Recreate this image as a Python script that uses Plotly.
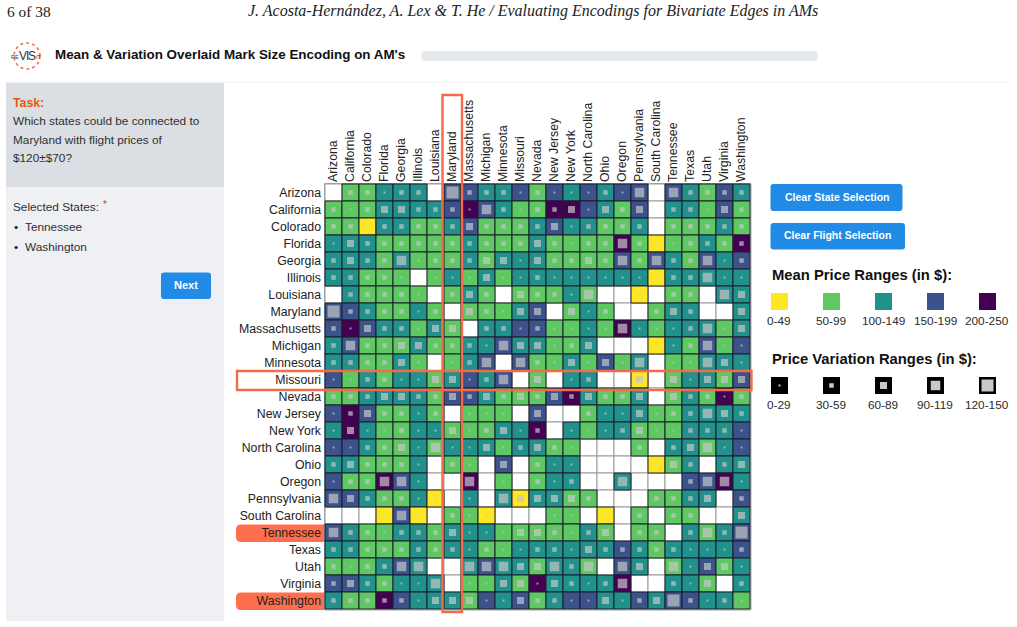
import plotly.graph_objects as go

W, H = 1017, 627

states = ["Arizona", "California", "Colorado", "Florida", "Georgia", "Illinois", "Louisiana",
          "Maryland", "Massachusetts", "Michigan", "Minnesota", "Missouri", "Nevada",
          "New Jersey", "New York", "North Carolina", "Ohio", "Oregon", "Pennsylvania",
          "South Carolina", "Tennessee", "Texas", "Utah", "Virginia", "Washington"]

# Mean price bin per route: Y 0-49, G 50-99, T 100-149, B 150-199, P 200-250, "." no flight
mean_bins = [
    ".GGTTT.BBTTBGBTBTBB.BTGBT",
    "GGGTTTTBPBTGGPPBTGB.TTGBG",
    "GGYTTGGTBGGGTBTTGGT.GGGTG",
    "TTTGGGGGTGGGTGGGGPGYGGTGP",
    "TTTGTGGGTGTTTGGGGBGBTGBTB",
    "TTGGG.GTGTGTTTTTTTTYTTTTT",
    ".TGGGG.GTG.GGGTG..Y.GG.TT",
    "BBTGGTG.GGGTB.GTG..GTT..T",
    "BPBTTGTG.TTBBGGTGPTGTTTGT",
    "TBGGGTGGTTBTTGGT...YTGBGB",
    "TTGGTG.GTB.BGGTGBGT.GGTTT",
    "BGTGTTGTBTB.G.TT..Y.GTTGB",
    "GGTTTTGBBTGGGBPTGGT.GTGPG",
    "BPBGGTG.GGG.B..GTTTGGTTTT",
    "TPTGGTTGGGTTP.TGTTGGGTTTB",
    "BBTGGTGTTTGTTGG...G.TTGTB",
    "TTGGGT.GG.B.GTT....YGT.TT",
    "BGGPBT..P.G.GTT..T...BBPT",
    "BBTGGTY.T.TYTTGG...GGTT.B",
    "...YBY.GGY...GG.Y.G.GG..T",
    "BTGGTTGTTTGGGGGTG.GG.TGTB",
    "TTGGGTGTTGGTTTTTTBTGTTTTB",
    "GGGTBT..TBTTGTTG.BT.GTBGT",
    "BBTGTTT.GGTGPTTTTP..TTG.T",
    "TGGPBTTTGBTBGTBBTTBTBBTTG",
]

# Price variation bin per route: 0 0-29, 1 30-59, 2 60-89, 3 90-119, 4 120-150
spread_bins = [
    ".11011.411101000103.31111",
    "1012211103101120212.11021",
    "1101111121111201111.11111",
    "0211111111112101131001111",
    "1211301112202112131311301",
    "11110.0002001000000011300",
    ".11110.121.21103..0.11.32",
    "4111101.21022.201..121..2",
    "10211022.1101000030001302",
    "1311221110322012...001300",
    "111120.013.31020203.00320",
    "00110022013.2.01..2.20222",
    "1112211212121212112.21101",
    "0121101.000.2..1002011321",
    "0200100201201.00012001110",
    "001120300201210...1.12300",
    "121110.10.2.100....021.12",
    "011330..3.0.101..3...1330",
    "3211100.0.322221...1112.1",
    "...030.100...00.0.1.11..2",
    "31101112000221012.11.1314",
    "1111111101001102111110001",
    "101133..33322313.32.30220",
    "1211003.0022021013..102.1",
    "1111102220021100201241010",
]

mean_colors = {"Y": "#fde725", "G": "#5ec962", "T": "#21918c", "B": "#3b528b", "P": "#440154"}
mean_labels = ["0-49", "50-99", "100-149", "150-199", "200-250"]
spread_labels = ["0-29", "30-59", "60-89", "90-119", "120-150"]
spread_sizes = [2, 4.5, 7, 9.5, 12]
selected_states = ["Tennessee", "Washington"]
focus_state = "Maryland"
focus_row = "Missouri"

ORANGE = "#f56b4a"
BLUE = "#228be6"
SANS = "Liberation Sans"
SERIF = "Liberation Serif"
INK = "#222222"


def px(x):
    return x / W


def py(y):
    return 1 - y / H


def rect(x0, y0, x1, y1, fill=None, line=None, width=0, layer="below"):
    return dict(type="rect", xref="paper", yref="paper", x0=px(x0), x1=px(x1), y0=py(y0), y1=py(y1),
                fillcolor=fill or "rgba(0,0,0,0)", line=dict(color=line or "rgba(0,0,0,0)", width=width),
                layer=layer)


def rounded(x0, y0, x1, y1, r, fill, layer="below", corners="tl tr br bl"):
    # Rounded rectangle as a path in paper coordinates
    def p(x, y):
        return f"{px(x):.5f},{py(y):.5f}"
    tl = r if "tl" in corners else 0
    tr = r if "tr" in corners else 0
    br = r if "br" in corners else 0
    bl = r if "bl" in corners else 0
    d = (f"M{p(x0 + tl, y0)} L{p(x1 - tr, y0)} Q{p(x1, y0)} {p(x1, y0 + tr)} "
         f"L{p(x1, y1 - br)} Q{p(x1, y1)} {p(x1 - br, y1)} "
         f"L{p(x0 + bl, y1)} Q{p(x0, y1)} {p(x0, y1 - bl)} "
         f"L{p(x0, y0 + tl)} Q{p(x0, y0)} {p(x0 + tl, y0)} Z")
    return dict(type="path", xref="paper", yref="paper", path=d, fillcolor=fill,
                line=dict(width=0), layer=layer)


def text(x, y, s, size=12, color=INK, anchor="left", family=SANS):
    return dict(xref="paper", yref="paper", x=px(x), y=py(y), text=s, showarrow=False,
                xanchor=anchor, yanchor="middle", borderpad=0,
                font=dict(size=size, color=color, family=family))


# Matrix cells split into empty routes and routes with flights
ex, ey, cx, cy, cc, ss = [], [], [], [], [], []
for r, (mrow, srow) in enumerate(zip(mean_bins, spread_bins)):
    for c, (m, s) in enumerate(zip(mrow, srow)):
        if m == ".":
            ex.append(states[c])
            ey.append(states[r])
        else:
            cx.append(states[c])
            cy.append(states[r])
            cc.append(mean_colors[m])
            ss.append(spread_sizes[int(s)])

fig = go.Figure()
fig.add_trace(go.Scatter(x=ex, y=ey, mode="markers", hoverinfo="skip", cliponaxis=False,
                         marker=dict(symbol="square", size=17, color="white",
                                     line=dict(color="#9a9a9a", width=1))))
fig.add_trace(go.Scatter(x=cx, y=cy, mode="markers", hoverinfo="skip", cliponaxis=False,
                         marker=dict(symbol="square", size=17, color=cc,
                                     line=dict(color="#1c1c2a", width=1))))
fig.add_trace(go.Scatter(x=cx, y=cy, mode="markers", hoverinfo="skip", cliponaxis=False,
                         marker=dict(symbol="square", size=ss, color="#c6c6c6", line=dict(width=0))))

shapes = []
annotations = []

# Page header
annotations.append(text(5.5, 11, "6 of 38", 15.4, "#222222", family=SERIF))
annotations.append(text(532.5, 11, "<i>J. Acosta-Hernández, A. Lex &amp; T. He / Evaluating Encodings for Bivariate Edges in AMs</i>",
                        16, "#222222", "center", SERIF))

# Study title bar with the ring logo
shapes.append(dict(type="circle", xref="paper", yref="paper", x0=px(14), x1=px(40), y0=py(43), y1=py(69),
                   line=dict(color="#ef7350", width=1.6, dash="dot"), fillcolor="rgba(0,0,0,0)"))
annotations.append(text(15, 57, "RE", 5.5, "#333333", "center"))
annotations.append(text(22.5, 56, "V", 12, "#333333", "center"))
annotations.append(text(27.5, 56, "I", 12, "#333333", "center"))
annotations.append(text(32, 56, "S", 12, "#333333", "center"))
annotations.append(text(39, 57, "IT", 5.5, "#333333", "center"))
annotations.append(text(53.5, 54.5, "<b>Mean &amp; Variation Overlaid Mark Size Encoding on AM's</b>", 13.4, "#111111"))
shapes.append(rounded(421, 51, 818, 61, 5, "#e7eaed"))
shapes.append(rect(6, 81.5, 1010, 82.5, fill="#edeff1"))

# Left task panel
shapes.append(rect(6, 83, 224, 187, fill="#dbdfe3"))
shapes.append(rect(6, 187, 224, 621, fill="#eef0f4"))
annotations.append(text(12, 103, "<b>Task:</b>", 12.3, "#e8590c"))
for y, line_text in zip([121, 139.5, 158],
                        ["Which states could be connected to", "Maryland with flight prices of", "$120±$70?"]):
    annotations.append(text(12, y, line_text, 11.8, "#2f2f2f"))
annotations.append(text(12, 206.5, "Selected States:", 11.8, "#2f2f2f"))
annotations.append(text(101.5, 205, "*", 10, "#e03131"))
for y, name in zip([226.5, 246.5], selected_states):
    annotations.append(text(13, y, "•", 11.8, "#111111"))
    annotations.append(text(23.5, y, name, 11.8, "#2f2f2f"))
shapes.append(rounded(161, 272.5, 211, 299, 3, BLUE))
annotations.append(text(186, 285, "<b>Next</b>", 11, "white", "center"))

# Selected-state pills behind the row labels
for name in selected_states:
    top = 184 + 17 * states.index(name)
    shapes.append(rounded(236, top + 0.5, 325, top + 18, 5, "#ff6f4d", corners="tl bl"))

# Frame around the matrix
shapes.append(rect(324.5, 183.5, 751, 610, line="#a8a8a8", width=1, layer="below"))

# Highlighted column and row
c7 = states.index(focus_state)
r11 = states.index(focus_row)
shapes.append(rect(325 + 17 * c7 - 1.5, 95, 325 + 17 * c7 + 18, 612, line=ORANGE, width=2.4, layer="above"))
shapes.append(rect(237, 184 + 17 * r11, 751.5, 184 + 17 * r11 + 19, line=ORANGE, width=2.4, layer="above"))

# Side buttons
shapes.append(rounded(770.5, 184, 902.5, 211, 3, BLUE))
annotations.append(text(836.5, 196.5, "<b>Clear State Selection</b>", 10.5, "white", "center"))
shapes.append(rounded(770.5, 223, 905, 249.5, 3, BLUE))
annotations.append(text(837.7, 235, "<b>Clear Flight Selection</b>", 10.5, "white", "center"))

# Mean price legend
annotations.append(text(770.5, 275, "<b>Mean Price Ranges (in $):</b>", 14.8, "#111111"))
legend_x = [771, 823, 875, 927, 979]
for x, key, label in zip(legend_x, "YGTBP", mean_labels):
    shapes.append(rect(x, 293, x + 17, 310, fill=mean_colors[key]))
    annotations.append(text(x + 8, 320.5, label, 11.8, "#2b2b2b", "center"))

# Price variation legend
annotations.append(text(770.5, 359, "<b>Price Variation Ranges (in $):</b>", 14.8, "#111111"))
for x, size, label in zip(legend_x, spread_sizes, spread_labels):
    shapes.append(rect(x, 377, x + 17, 394, fill="#000000"))
    cxm, cym = x + 8.5, 385.5
    shapes.append(rect(cxm - size / 2, cym - size / 2, cxm + size / 2, cym + size / 2, fill="#c8c8c8"))
    annotations.append(text(x + 8, 404.5, label, 11.8, "#2b2b2b", "center"))

fig.update_layout(
    width=W, height=H, autosize=False, showlegend=False,
    margin=dict(l=0, r=0, t=0, b=0, pad=0),
    paper_bgcolor="white", plot_bgcolor="rgba(0,0,0,0)",
    shapes=shapes, annotations=annotations,
    xaxis=dict(domain=[px(325), px(750)], type="category", categoryorder="array", categoryarray=states,
               range=[-0.5, 24.5], side="top", tickangle=-90, showgrid=False, zeroline=False,
               showline=False, ticks="", automargin=False, ticklabelstandoff=1,
               tickfont=dict(family=SANS, size=12.3, color=INK)),
    yaxis=dict(domain=[py(609), py(184)], type="category", categoryorder="array", categoryarray=states,
               range=[24.5, -0.5], showgrid=False, zeroline=False, showline=False, ticks="",
               automargin=False, ticklabelstandoff=3, tickfont=dict(family=SANS, size=12.3, color=INK)),
)

fig.write_html("out.html", config=dict(displayModeBar=False))
